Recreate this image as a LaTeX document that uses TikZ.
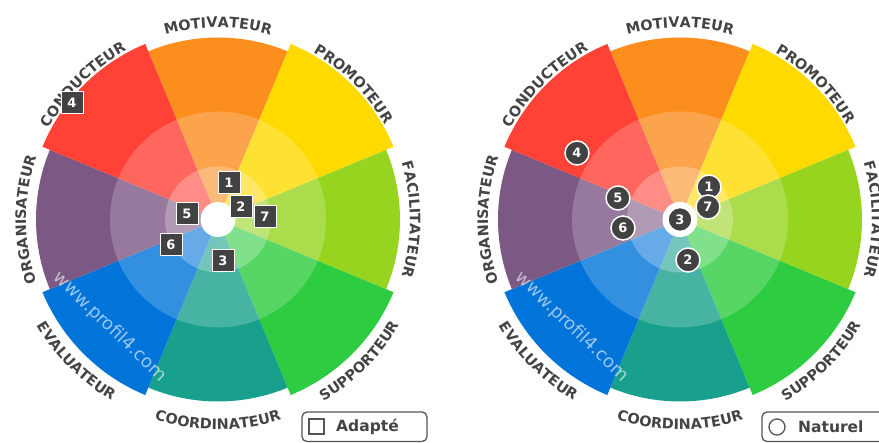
\documentclass[tikz,border=0pt]{standalone}
\usepackage{fontspec}
\setmainfont{DejaVu Sans}
\usetikzlibrary{positioning,decorations.text}

\definecolor{corange}{RGB}{252,142,30}
\definecolor{cyellow}{RGB}{255,218,0}
\definecolor{clime}{RGB}{150,212,32}
\definecolor{cgreen}{RGB}{46,204,64}
\definecolor{cteal}{RGB}{24,160,140}
\definecolor{cblue}{RGB}{0,116,217}
\definecolor{cpurple}{RGB}{124,88,132}
\definecolor{cred}{RGB}{255,65,54}
\definecolor{texte}{RGB}{68,68,68}
\definecolor{marque}{RGB}{66,66,66}
\definecolor{bord}{RGB}{85,85,85}

\newcommand\lblfont{\fontsize{14.4}{14.4}\selectfont\bfseries}

\begin{document}
\begin{tikzpicture}[x=1pt,y=1pt,
    carre/.style={rectangle,draw=white,line width=1pt,fill=marque,text=white,
      font=\fontsize{13}{13}\selectfont\bfseries,minimum size=22pt,inner sep=0pt},
    rond/.style={carre,circle,minimum size=24pt,line width=1.5pt},
    legende/.style={draw=bord,line width=1.3pt,rounded corners=5pt,fill=white},
    etiq/.style={text=texte,font=\fontsize{15.5}{15.5}\selectfont\bfseries,anchor=west,inner sep=0pt}]
  \useasboundingbox (0,0) rectangle (879,443);

  % les deux roues
  \foreach \cx in {218,680}{
    \begin{scope}[shift={(\cx,223.5)}]
      \foreach \ang/\rad/\col in {90/182/corange,45/190/cyellow,0/182/clime,-45/190/cgreen,
          -90/182/cteal,-135/190/cblue,180/182/cpurple,135/190/cred}
        \fill[\col] (0,0) -- (\ang-22.5:\rad pt) arc[start angle=\ang-22.5,end angle=\ang+22.5,radius=\rad pt] -- cycle;
      \fill[white,opacity=.2] (0,0) circle (108pt);
      \fill[white,opacity=.25] (0,0) circle (53pt);
      \fill[white] (0,0) circle (17.5pt);

      \foreach \ang/\lab in {90/MOTIVATEUR,45/PROMOTEUR,0/FACILITATEUR,180/ORGANISATEUR,135/CONDUCTEUR}
        \path[decorate,decoration={text along path,text align=center,text color=texte,
            text/.expanded={|\noexpand\lblfont|\lab}}]
          (\ang+40:192pt) arc[start angle=\ang+40,end angle=\ang-40,radius=192pt];
      \foreach \ang/\lab in {-90/COORDINATEUR,-45/SUPPORTEUR,-135/EVALUATEUR}
        \path[decorate,decoration={text along path,text align=center,text color=texte,
            text/.expanded={|\noexpand\lblfont|\lab}}]
          (\ang-40:210pt) arc[start angle=\ang-40,end angle=\ang+40,radius=210pt];

      \node[rotate=-44,text=white,opacity=.6,font=\fontsize{18}{18}\selectfont] (w\cx) at (-108,-107.5) {www.profil4.com};
    \end{scope}
  }

  % Adapté
  \node[carre] (a1) at (229,260) {1};
  \node[carre] (a2) at (241,236) {2};
  \node[carre] (a3) at (223,182) {3};
  \node[carre] (a4) at (72,340) {4};
  \node[carre] (a5) at (187,229) {5};
  \node[carre] (a6) at (171,198) {6};
  \node[carre] (a7) at (265,226) {7};

  % Naturel
  \node[rond] (n1) at (709,256) {1};
  \node[rond] (n2) at (688,183) {2};
  \node[rond] (n3) at (680,223.5) {3};
  \node[rond] (n4) at (577,290) {4};
  \node[rond] (n5) at (618,245) {5};
  \node[rond] (n6) at (623,215) {6};
  \node[rond] (n7) at (708,236) {7};

  % legendes
  \draw[legende] (302,1.5) rectangle (427,31);
  \node[draw=bord,line width=1.3pt,minimum size=15pt,inner sep=0pt] (ic1) at (316.5,16.5) {};
  \node[etiq] (adapte) at (336,16) {Adapté};
  \draw[legende] (762,1.5) rectangle (900,31);
  \node[circle,draw=bord,line width=1.3pt,minimum size=16pt,inner sep=0pt] (ic2) at (777,16) {};
  \node[etiq] (naturel) at (798,16) {Naturel};
\end{tikzpicture}
\end{document}
